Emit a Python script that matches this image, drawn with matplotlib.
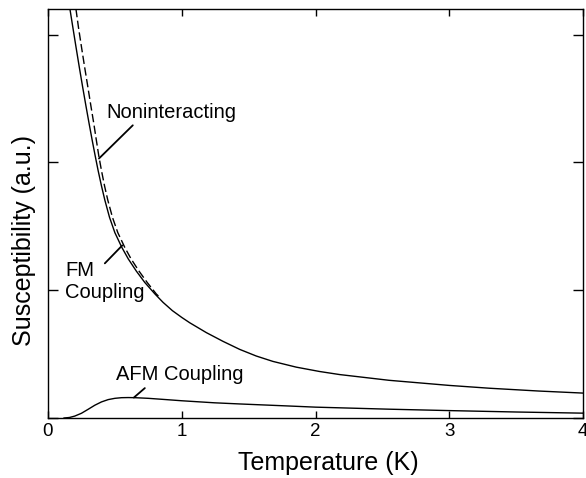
import numpy as np
import matplotlib
matplotlib.use("Agg")
import matplotlib.pyplot as plt

plt.rcParams['font.family'] = ['Liberation Sans', 'DejaVu Sans']

# (T in K, susceptibility in a.u.)
t_fm = [0.164, 0.186, 0.209, 0.234, 0.259, 0.284, 0.308, 0.331, 0.353, 0.375,
        0.40, 0.425, 0.46, 0.50, 0.552, 0.60, 0.66, 0.724, 0.80, 0.86, 0.93,
        1.0, 1.06, 1.184, 1.308, 1.433, 1.557, 1.681, 1.856, 2.03, 2.18, 2.55,
        3.0, 3.3, 3.67, 4.0]
chi_fm = [3.20, 3.055, 2.905, 2.745, 2.59, 2.44, 2.30, 2.17, 2.05, 1.935,
          1.815, 1.705, 1.57, 1.45, 1.335, 1.245, 1.15, 1.06, 0.97, 0.905, 0.84,
          0.787, 0.745, 0.668, 0.600, 0.537, 0.485, 0.443, 0.398, 0.364, 0.34, 0.295,
          0.255, 0.233, 0.211, 0.195]

t_free = [0.209, 0.228, 0.250, 0.274, 0.298, 0.321, 0.343, 0.362, 0.380, 0.400,
          0.423, 0.447, 0.482, 0.522, 0.574, 0.621, 0.68, 0.742, 0.81, 0.83]
chi_free = [3.20, 3.055, 2.905, 2.745, 2.59, 2.44, 2.30, 2.17, 2.05, 1.935,
            1.815, 1.705, 1.57, 1.45, 1.335, 1.245, 1.15, 1.06, 0.97, 0.95]

t_afm = [0.12, 0.16, 0.2, 0.25, 0.3, 0.35, 0.4, 0.45, 0.5, 0.55, 0.6, 0.65,
         0.75, 0.87, 1.0, 1.244, 1.433, 1.8, 2.0, 2.55, 3.0, 3.5, 4.0]
chi_afm = [0.0, 0.004, 0.015, 0.037, 0.068, 0.100, 0.126, 0.144, 0.154, 0.159,
           0.160, 0.159, 0.154, 0.145, 0.135, 0.119, 0.110, 0.094, 0.085, 0.069,
           0.058, 0.047, 0.038]

xticks = [0, 1, 2, 3, 4]
yticks = [0, 1, 2, 3]

fig = plt.figure(figsize=(5.86, 4.78), dpi=100)
ax = fig.add_axes([0.0819, 0.1255, 0.913, 0.8557])

ax.plot(t_fm, chi_fm, color='black', lw=1.0)
ax.plot(t_free, chi_free, color='black', lw=1.0, dashes=(6, 2.5))
ax.plot(t_afm, chi_afm, color='black', lw=1.0)

ax.set_xlim(0, 4)
ax.set_ylim(0, 3.2)
ax.set_xticks(xticks)
ax.set_yticks(yticks)
ax.set_yticklabels([])
ax.tick_params(direction='in', top=True, right=True, labelsize=13.5, width=1.0)
ax.tick_params(axis='x', length=5)
ax.tick_params(axis='y', length=7)
for s in ax.spines.values():
    s.set_linewidth(1.0)

# labels with pointer lines
ax.text(0.433, 2.35, 'Noninteracting', fontsize=14.5, va='baseline')
ax.annotate('', xy=(0.381, 2.03), xytext=(0.634, 2.29),
            arrowprops=dict(arrowstyle='-', lw=1.3, color='black',
                            shrinkA=0, shrinkB=0))
ax.text(0.127, 1.11, 'FM', fontsize=14.5, va='baseline')
ax.text(0.127, 0.94, 'Coupling', fontsize=14.5, va='baseline')
ax.annotate('', xy=(0.555, 1.35), xytext=(0.425, 1.21),
            arrowprops=dict(arrowstyle='-', lw=1.3, color='black',
                            shrinkA=0, shrinkB=0))
ax.text(0.507, 0.297, 'AFM Coupling', fontsize=14.5, va='baseline')
ax.annotate('', xy=(0.642, 0.16), xytext=(0.724, 0.234),
            arrowprops=dict(arrowstyle='-', lw=1.3, color='black',
                            shrinkA=0, shrinkB=0))

fig.text(0.56, 0.017, 'Temperature (K)', fontsize=18, ha='center', va='baseline')
fig.text(0.041, 0.496, 'Susceptibility (a.u.)', fontsize=18, rotation=90,
         ha='center', va='center')

fig.savefig('out.png', dpi=100)
